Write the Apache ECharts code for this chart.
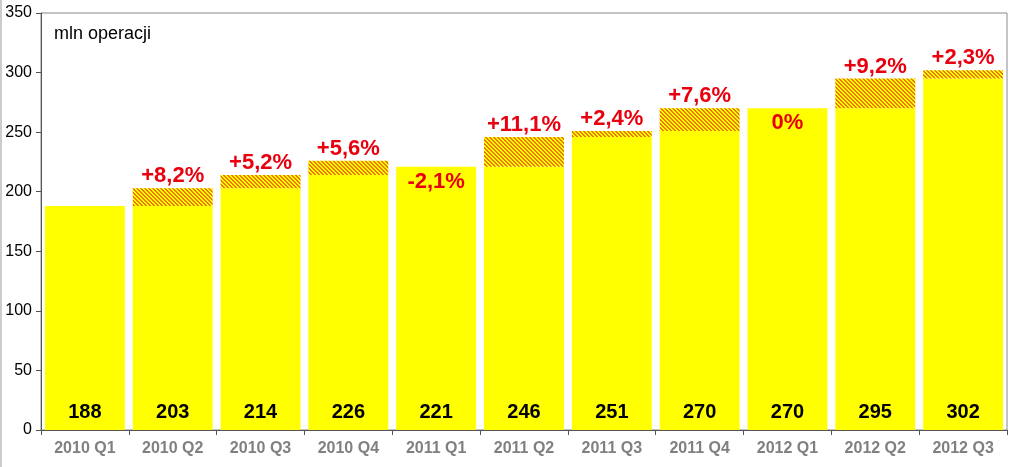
<!DOCTYPE html>
<html><head><meta charset="utf-8">
<script src="https://cdn.jsdelivr.net/npm/echarts@6/dist/echarts.min.js"></script>
<style>html,body{margin:0;padding:0;background:#fff}#c{width:1024px;height:467px}</style>
</head><body><div id="c"></div>
<script>
const categories = ['2010 Q1','2010 Q2','2010 Q3','2010 Q4','2011 Q1','2011 Q2','2011 Q3','2011 Q4','2012 Q1','2012 Q2','2012 Q3'];
const values = [188, 203, 214, 226, 221, 246, 251, 270, 270, 295, 302];
const changeLabels = ['', '+8,2%', '+5,2%', '+5,6%', '-2,1%', '+11,1%', '+2,4%', '+7,6%', '0%', '+9,2%', '+2,3%'];
const yTicks = [0, 50, 100, 150, 200, 250, 300, 350];

// hatch pattern
const pc = document.createElement('canvas');
pc.width = 8; pc.height = 8;
const ctx = pc.getContext('2d');
ctx.fillStyle = '#FFFF00'; ctx.fillRect(0,0,8,8);
ctx.fillStyle = '#F07800';
for (let y = 0; y < 8; y++) for (let x = 0; x < 8; x++) {
  const m = ((x - y) % 4 + 4) % 4;
  if (m === 0 || m === 1) ctx.fillRect(x, y, 1, 1);
}

const base = values.map((v, i) => i === 0 ? v : Math.min(v, values[i-1]));
const inc = values.map((v, i) => i === 0 ? 0 : Math.max(0, v - values[i-1]));

const font = 'Liberation Sans, Arial, sans-serif';
const chart = echarts.init(document.getElementById('c'), null, {renderer: 'canvas'});
chart.setOption({
  animation: false,
  title: {text: 'mln operacji', left: 49, top: 20, textStyle: {fontFamily: font, fontSize: 18, fontWeight: 'normal', color: '#000'}},
  grid: {left: 41, right: 17, top: 13, bottom: 37, show: true, borderColor: '#888', borderWidth: 1},
  xAxis: {
    type: 'category', data: categories,
    axisLine: {lineStyle: {color: '#555'}},
    axisTick: {show: true, length: 5, lineStyle: {color: '#555'}},
    axisLabel: {fontFamily: font, fontSize: 16, fontWeight: 'bold', color: '#808080', margin: 11}
  },
  yAxis: {
    type: 'value', min: yTicks[0], max: yTicks[yTicks.length-1], interval: 50,
    splitLine: {show: false},
    axisLine: {show: true, lineStyle: {color: '#555'}},
    axisTick: {show: true, length: 5, lineStyle: {color: '#555'}},
    axisLabel: {fontFamily: font, fontSize: 16, color: '#000', margin: 9}
  },
  graphic: [{type: 'line', shape: {x1: 1, y1: 0, x2: 1, y2: 467}, style: {stroke: '#999', lineWidth: 1}}],
  series: [
    {
      type: 'bar', stack: 's', barCategoryGap: '9%',
      data: base,
      itemStyle: {color: '#FFFF00'},
      label: {show: true, position: 'insideBottom', distance: 8,
        formatter: p => String(values[p.dataIndex]),
        fontFamily: font, fontSize: 20, fontWeight: 'bold', color: '#000'}
    },
    {
      type: 'bar', stack: 's',
      data: inc.map((v, i) => ({
        value: v,
        label: v > 0 ? {position: 'top', distance: 1} : {position: 'insideTop', distance: 4}
      })),
      itemStyle: {color: {image: pc, repeat: 'repeat'}},
      label: {show: true, formatter: p => changeLabels[p.dataIndex],
        fontFamily: font, fontSize: 22, fontWeight: 'bold', color: '#E8000F'}
    }
  ]
});
</script></body></html>
